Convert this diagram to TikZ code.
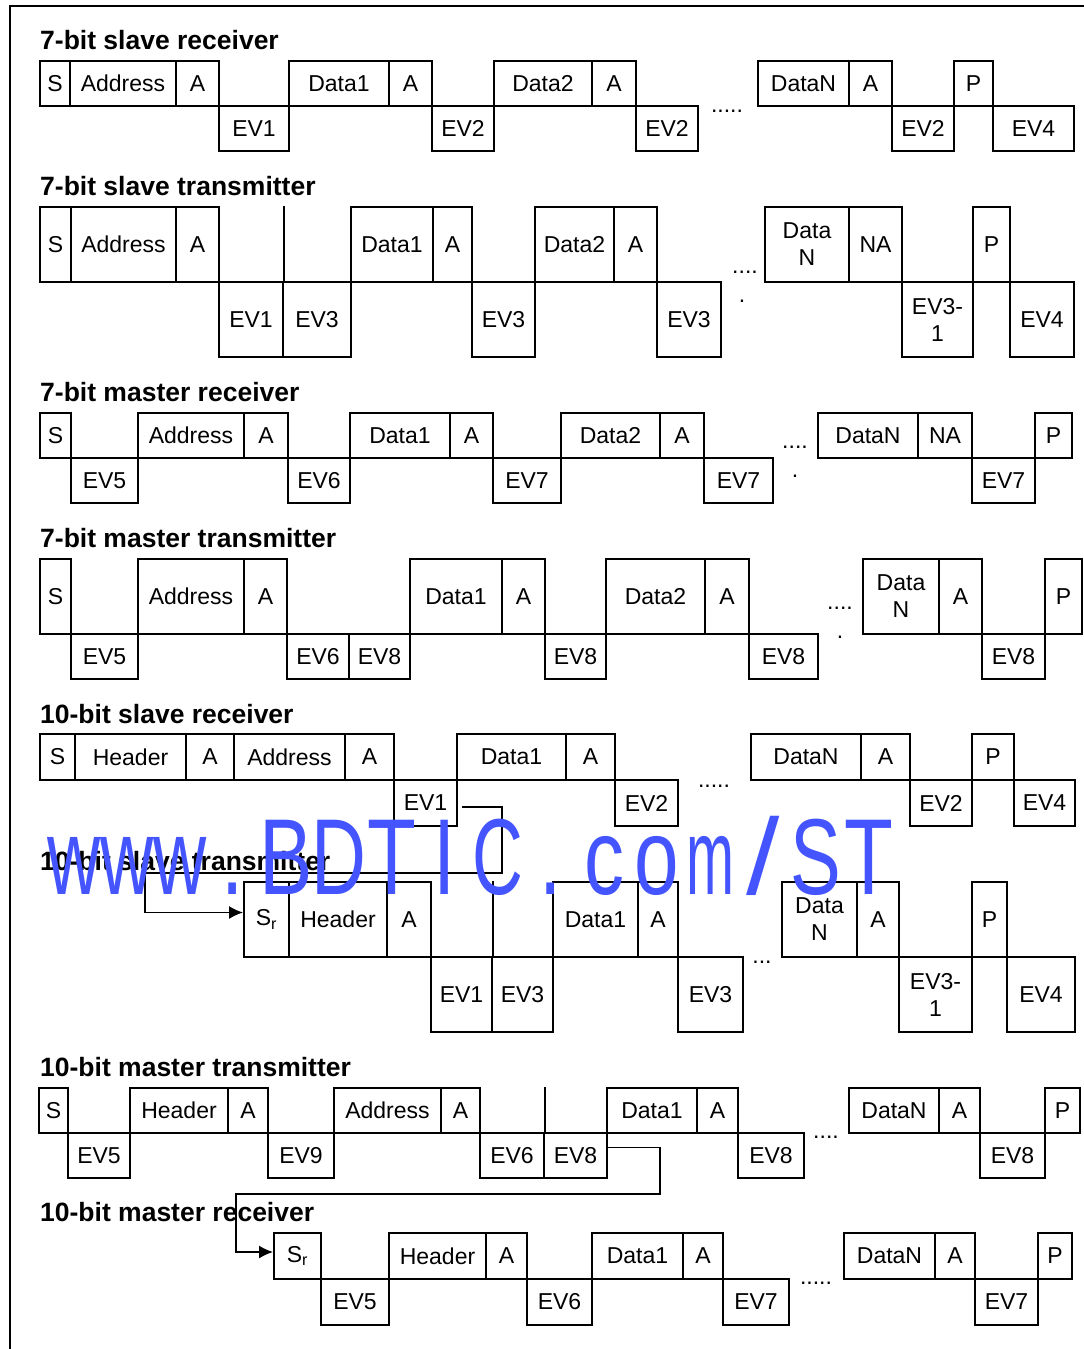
\documentclass[tikz,border=0pt]{standalone}
\usepackage{fontspec}
\setmainfont{Liberation Sans}
\usepackage{graphicx}
\usetikzlibrary{arrows.meta}

\definecolor{wmblue}{RGB}{68,85,255}

\tikzset{
  bitbox/.style={draw, line width=2pt, inner sep=0pt, align=center,
    font=\fontsize{23}{27}\selectfont},
  seqtitle/.style={anchor=base west, inner sep=0pt,
    font=\fontsize{26.5}{30}\selectfont\bfseries},
  gapdots/.style={anchor=base, inner sep=0pt, font=\fontsize{23}{27}\selectfont},
  jump/.style={line width=1.5pt, -{Latex[length=14pt,width=13pt]}},
  wmark/.style={anchor=base, inner sep=0pt, text=wmblue,
    font=\fontsize{80}{88}\selectfont}
}

% one field of a sequence: name, left, right, top, bottom, text
\newcommand{\fieldbox}[6]{%
  \pgfmathsetmacro{\fbw}{#3-#2}%
  \pgfmathsetmacro{\fbh}{#5-#4}%
  \node[bitbox, minimum width=\fbw pt, minimum height=\fbh pt]
    (#1) at ({(#2+#3)/2},{(#4+#5)/2}) {#6};}

\begin{document}
\begin{tikzpicture}[x=1pt, y=-1pt]
  \useasboundingbox (0,0) rectangle (1084,1349);
  % frame
  \draw[line width=2pt] (10,1349) -- (10,5.5) -- (1084,5.5);

  % 7-bit slave receiver
  \node[seqtitle] (tA) at (40,49) {7-bit slave receiver};
  \fieldbox{aS}{40}{70}{61}{106}{S}
  \fieldbox{aAddr}{70}{176}{61}{106}{Address}
  \fieldbox{aA0}{176}{219}{61}{106}{A}
  \fieldbox{aEVa}{219}{289}{106}{151}{EV1}
  \fieldbox{aD1}{289}{389}{61}{106}{Data1}
  \fieldbox{aA1}{389}{432}{61}{106}{A}
  \fieldbox{aEVb}{432}{494}{106}{151}{EV2}
  \fieldbox{aD2}{494}{592}{61}{106}{Data2}
  \fieldbox{aA2}{592}{636}{61}{106}{A}
  \fieldbox{aEVc}{636}{698}{106}{151}{EV2}
  \node[gapdots] (aDots) at (727,112) {.....};
  \fieldbox{aDN}{758}{849}{61}{106}{DataN}
  \fieldbox{aAN}{849}{892}{61}{106}{A}
  \fieldbox{aEVd}{892}{954}{106}{151}{EV2}
  \fieldbox{aP}{954}{993}{61}{106}{P}
  \fieldbox{aEVe}{993}{1074}{106}{151}{EV4}

  % 7-bit slave transmitter
  \node[seqtitle] (tB) at (40,195) {7-bit slave transmitter};
  \fieldbox{bS}{40}{71}{207}{282}{S}
  \fieldbox{bAddr}{71}{176}{207}{282}{Address}
  \fieldbox{bA0}{176}{219}{207}{282}{A}
  \fieldbox{bEVa}{219}{283}{282}{357}{EV1}
  \fieldbox{bEVb}{283}{351}{282}{357}{EV3}
  \fieldbox{bD1}{351}{433}{207}{282}{Data1}
  \fieldbox{bA1}{433}{472}{207}{282}{A}
  \fieldbox{bEVc}{472}{535}{282}{357}{EV3}
  \fieldbox{bD2}{535}{614}{207}{282}{Data2}
  \fieldbox{bA2}{614}{657}{207}{282}{A}
  \fieldbox{bEVd}{657}{721}{282}{357}{EV3}
  \node[gapdots] (bDots) at (745,273) {....};
  \node[gapdots] (bDot) at (742,302) {.};
  \fieldbox{bDN}{765}{849}{207}{282}{Data\\N}
  \fieldbox{bNA}{849}{902}{207}{282}{NA}
  \fieldbox{bEVe}{902}{973}{282}{357}{EV3-\\1}
  \fieldbox{bP}{973}{1010}{207}{282}{P}
  \fieldbox{bEVf}{1010}{1074}{282}{357}{EV4}
  \draw[line width=2pt] (bEVa.north east) -- (bEVa.north east |- bS.north);

  % 7-bit master receiver
  \node[seqtitle] (tC) at (40,401) {7-bit master receiver};
  \fieldbox{cS}{40}{71}{413}{458}{S}
  \fieldbox{cEVa}{71}{138}{458}{503}{EV5}
  \fieldbox{cAddr}{138}{244}{413}{458}{Address}
  \fieldbox{cA0}{244}{288}{413}{458}{A}
  \fieldbox{cEVb}{288}{350}{458}{503}{EV6}
  \fieldbox{cD1}{350}{450}{413}{458}{Data1}
  \fieldbox{cA1}{450}{493}{413}{458}{A}
  \fieldbox{cEVc}{493}{561}{458}{503}{EV7}
  \fieldbox{cD2}{561}{660}{413}{458}{Data2}
  \fieldbox{cA2}{660}{704}{413}{458}{A}
  \fieldbox{cEVd}{704}{773}{458}{503}{EV7}
  \node[gapdots] (cDots) at (795,448) {....};
  \node[gapdots] (cDot) at (795,477) {.};
  \fieldbox{cDN}{818}{918}{413}{458}{DataN}
  \fieldbox{cNA}{918}{972}{413}{458}{NA}
  \fieldbox{cEVe}{972}{1035}{458}{503}{EV7}
  \fieldbox{cP}{1035}{1072}{413}{458}{P}

  % 7-bit master transmitter
  \node[seqtitle] (tD) at (40,547) {7-bit master transmitter};
  \fieldbox{dS}{40}{71}{559}{634}{S}
  \fieldbox{dEVa}{71}{138}{634}{679}{EV5}
  \fieldbox{dAddr}{138}{244}{559}{634}{Address}
  \fieldbox{dA0}{244}{287}{559}{634}{A}
  \fieldbox{dEVb}{287}{349}{634}{679}{EV6}
  \fieldbox{dEVc}{349}{410}{634}{679}{EV8}
  \fieldbox{dD1}{410}{502}{559}{634}{Data1}
  \fieldbox{dA1}{502}{545}{559}{634}{A}
  \fieldbox{dEVd}{545}{606}{634}{679}{EV8}
  \fieldbox{dD2}{606}{705}{559}{634}{Data2}
  \fieldbox{dA2}{705}{749}{559}{634}{A}
  \fieldbox{dEVe}{749}{818}{634}{679}{EV8}
  \node[gapdots] (dDots) at (840,609) {....};
  \node[gapdots] (dDot) at (840,638) {.};
  \fieldbox{dDN}{863}{939}{559}{634}{Data\\N}
  \fieldbox{dAN}{939}{982}{559}{634}{A}
  \fieldbox{dEVf}{982}{1045}{634}{679}{EV8}
  \fieldbox{dP}{1045}{1082}{559}{634}{P}

  % 10-bit slave receiver
  \node[seqtitle] (tE) at (40,723) {10-bit slave receiver};
  \fieldbox{eS}{40}{75}{734}{780}{S}
  \fieldbox{eHdr}{75}{186}{734}{780}{Header}
  \fieldbox{eA0}{186}{234}{734}{780}{A}
  \fieldbox{eAddr}{234}{345}{734}{780}{Address}
  \fieldbox{eA1}{345}{394}{734}{780}{A}
  \fieldbox{eEVa}{394}{457}{780}{826}{EV1}
  \fieldbox{eD1}{457}{566}{734}{780}{Data1}
  \fieldbox{eA2}{566}{615}{734}{780}{A}
  \fieldbox{eEVb}{615}{678}{780}{826}{EV2}
  \node[gapdots] (eDots) at (714,787) {.....};
  \fieldbox{eDN}{751}{861}{734}{780}{DataN}
  \fieldbox{eAN}{861}{910}{734}{780}{A}
  \fieldbox{eEVc}{910}{972}{780}{826}{EV2}
  \fieldbox{eP}{972}{1014}{734}{780}{P}
  \fieldbox{eEVd}{1014}{1075}{780}{826}{EV4}

  % 10-bit slave transmitter
  \node[seqtitle] (tF) at (40,870) {10-bit slave transmitter};
  \fieldbox{fSr}{244}{289}{882}{957}{S\textsubscript{r}}
  \fieldbox{fHdr}{289}{387}{882}{957}{Header}
  \fieldbox{fA0}{387}{431}{882}{957}{A}
  \fieldbox{fEVa}{431}{492}{957}{1032}{EV1}
  \fieldbox{fEVb}{492}{553}{957}{1032}{EV3}
  \fieldbox{fD1}{553}{638}{882}{957}{Data1}
  \fieldbox{fA1}{638}{678}{882}{957}{A}
  \fieldbox{fEVc}{678}{743}{957}{1032}{EV3}
  \node[gapdots] (fDots) at (762,963) {...};
  \fieldbox{fDN}{782}{857}{882}{957}{Data\\N}
  \fieldbox{fAN}{857}{899}{882}{957}{A}
  \fieldbox{fEVd}{899}{972}{957}{1032}{EV3-\\1}
  \fieldbox{fP}{972}{1007}{882}{957}{P}
  \fieldbox{fEVe}{1007}{1075}{957}{1032}{EV4}
  \draw[line width=2pt] (fEVa.north east) -- (fEVa.north east |- fSr.north);
  % restart after EV1 of the receiver
  \coordinate (eBendA) at (502,873);
  \coordinate (eBendB) at (145,873);
  \draw[jump] ([xshift=4pt,yshift=-4pt]eEVa.east) -| (eBendA) -- (eBendB)
    |- ([yshift=7pt]fSr.west);

  % 10-bit master transmitter
  \node[seqtitle] (tG) at (40,1076) {10-bit master transmitter};
  \fieldbox{gS}{39}{68}{1088}{1133}{S}
  \fieldbox{gEVa}{68}{130}{1133}{1178}{EV5}
  \fieldbox{gHdr}{130}{228}{1088}{1133}{Header}
  \fieldbox{gA0}{228}{268}{1088}{1133}{A}
  \fieldbox{gEVb}{268}{334}{1133}{1178}{EV9}
  \fieldbox{gAddr}{334}{441}{1088}{1133}{Address}
  \fieldbox{gA1}{441}{480}{1088}{1133}{A}
  \fieldbox{gEVc}{480}{544}{1133}{1178}{EV6}
  \fieldbox{gEVd}{544}{607}{1133}{1178}{EV8}
  \fieldbox{gD1}{607}{697}{1088}{1133}{Data1}
  \fieldbox{gA2}{697}{738}{1088}{1133}{A}
  \fieldbox{gEVe}{738}{804}{1133}{1178}{EV8}
  \node[gapdots] (gDots) at (826,1138) {....};
  \fieldbox{gDN}{849}{939}{1088}{1133}{DataN}
  \fieldbox{gAN}{939}{980}{1088}{1133}{A}
  \fieldbox{gEVf}{980}{1045}{1133}{1178}{EV8}
  \fieldbox{gP}{1045}{1080}{1088}{1133}{P}
  \draw[line width=2pt] (gEVc.north east) -- (gEVc.north east |- gS.north);

  % 10-bit master receiver
  \node[seqtitle] (tH) at (40,1221) {10-bit master receiver};
  \fieldbox{hSr}{274}{321}{1233}{1279}{S\textsubscript{r}}
  \fieldbox{hEVa}{321}{389}{1279}{1325}{EV5}
  \fieldbox{hHdr}{389}{486}{1233}{1279}{Header}
  \fieldbox{hA0}{486}{527}{1233}{1279}{A}
  \fieldbox{hEVb}{527}{592}{1279}{1325}{EV6}
  \fieldbox{hD1}{592}{683}{1233}{1279}{Data1}
  \fieldbox{hA1}{683}{723}{1233}{1279}{A}
  \fieldbox{hEVc}{723}{789}{1279}{1325}{EV7}
  \node[gapdots] (hDots) at (816,1284) {.....};
  \fieldbox{hDN}{844}{935}{1233}{1279}{DataN}
  \fieldbox{hAN}{935}{975}{1233}{1279}{A}
  \fieldbox{hEVd}{975}{1038}{1279}{1325}{EV7}
  \fieldbox{hP}{1038}{1072}{1233}{1279}{P}
  % restart after EV8 of the transmitter
  \coordinate (gBendA) at (660,1194);
  \coordinate (gBendB) at (236,1194);
  \draw[jump] ([yshift=8pt]gEVd.east) -| (gBendA) -- (gBendB)
    |- ([yshift=4pt]hSr.west);

  % watermark
  \foreach \ch/\sx [count=\i from 0] in {w/0.92,w/0.92,w/0.92,./1,B/1,D/0.95,T/1,I/1,
      C/0.88,./1,c/1,o/1,m/0.72,\slash/1.5,S/0.95,T/1}
    \node[wmark] (wm\i) at ({74+53*\i},894) {\scalebox{\sx}[1.35]{\ch}};
\end{tikzpicture}
\end{document}
